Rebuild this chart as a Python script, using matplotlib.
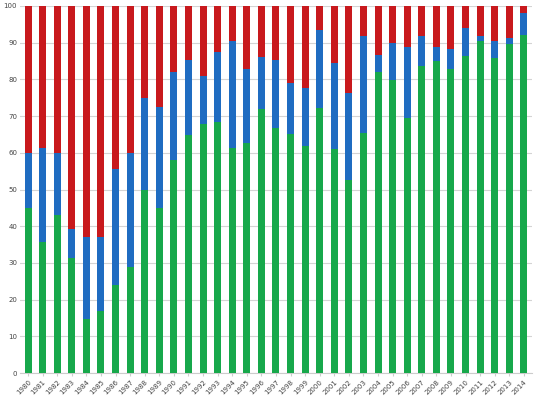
import matplotlib
matplotlib.use('Agg')
import matplotlib.pyplot as plt
import numpy as np

# data (percent)
years = [str(y) for y in range(1980, 2015)]
green = [45, 35.8, 43, 31.3, 14.8, 16.8, 24, 29, 50, 45,
         58, 64.9, 67.8, 68.4, 61.4, 62.6, 71.9, 66.7, 65.2, 61.9,
         72.1, 61, 52.6, 65.3, 82.1, 79.8, 69.4, 83.6, 85, 82.9,
         86.4, 90.5, 85.7, 89.6, 92.2]
blue_top = [60, 61.2, 60, 39.2, 37, 37.1, 55.5, 59.9, 75, 72.6,
            82.1, 85.3, 80.9, 87.4, 90.5, 82.8, 86, 85.2, 79, 77.7,
            93.5, 84.4, 76.3, 91.9, 86.6, 89.8, 88.7, 91.9, 88.7, 88.2,
            94, 91.9, 90.5, 91.3, 98]

green = np.array(green)
blue = np.array(blue_top) - green
red = 100 - np.array(blue_top)

fig = plt.figure(figsize=(5.4, 4), dpi=100)
ax = fig.add_axes([0.037, 0.0675, 0.948, 0.9175])

x = np.arange(len(years))
w = 0.48
ax.bar(x, green, w, color='#17a84b', zorder=3)
ax.bar(x, blue, w, bottom=green, color='#1f6cc1', zorder=3)
ax.bar(x, red, w, bottom=green + blue, color='#c8191d', zorder=3)

ax.set_xlim(-0.55, len(years) - 0.45)
ax.set_ylim(0, 100)
ax.set_yticks(range(0, 101, 10))
ax.set_xticks(x)
ax.set_xticklabels(years, rotation=45, ha='right', rotation_mode='anchor')
ax.tick_params(axis='both', labelsize=5, colors='#444444', length=0, pad=2)
ax.tick_params(axis='x', length=2, color='#cccccc')

ax.grid(axis='y', color='#d4d4d4', linewidth=0.8, zorder=0)
for s in ['top', 'right', 'left']:
    ax.spines[s].set_visible(False)
ax.spines['bottom'].set_color('#cccccc')

fig.savefig('out.png', dpi=100)
